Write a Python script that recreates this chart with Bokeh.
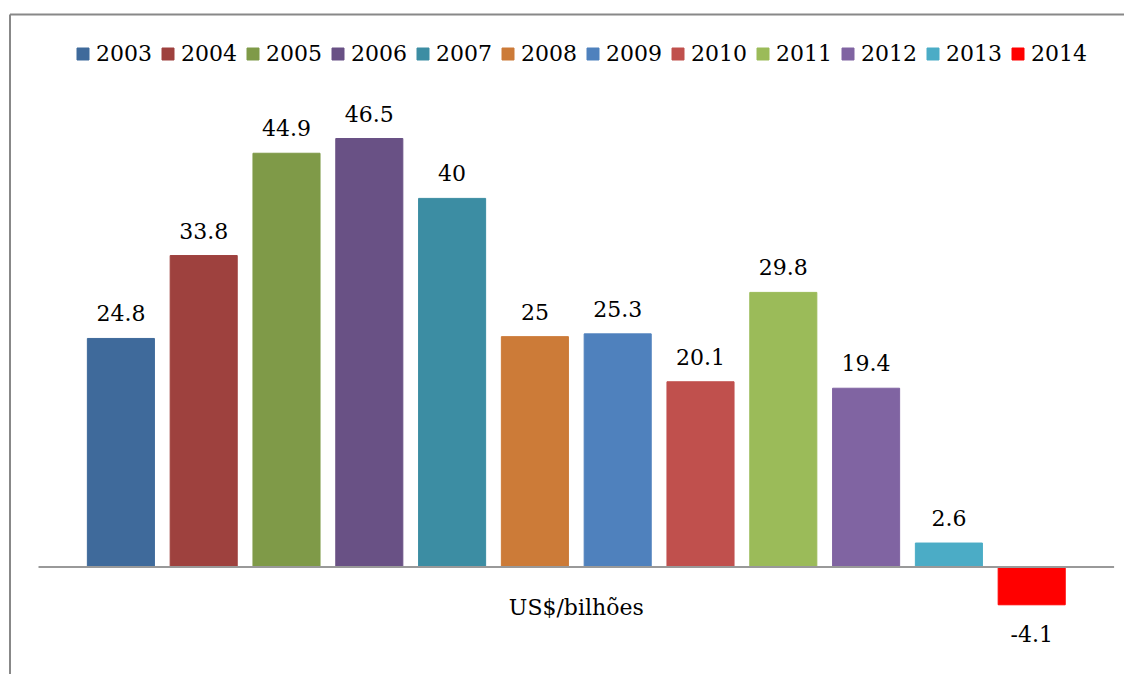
from bokeh.plotting import figure
from bokeh.models import ColumnDataSource, Range1d, LabelSet, Label, Legend, LegendItem
from bokeh.core.properties import value
from bokeh.embed import file_html
from bokeh.resources import INLINE

years = ["2003", "2004", "2005", "2006", "2007", "2008", "2009", "2010", "2011", "2012", "2013", "2014"]
values = [24.8, 33.8, 44.9, 46.5, 40, 25, 25.3, 20.1, 29.8, 19.4, 2.6, -4.1]
labels = ["24.8", "33.8", "44.9", "46.5", "40", "25", "25.3", "20.1", "29.8", "19.4", "2.6", "-4.1"]
colors = ["#3F6A9B", "#9E413E", "#7F9A48", "#695185", "#3C8DA3", "#CC7B38",
          "#4F81BD", "#C0504D", "#9BBB59", "#8064A2", "#4BACC6", "#FF0000"]
category_label = "US$/bilhões"

FONT = "DejaVu Serif"
FSIZE = "22px"

W, H = 1124, 674
PX_X = 82.8     # pixels per category
PX_Y = 9.215    # pixels per unit
x_start = -120.4 / PX_X
x_end = x_start + W / PX_X
y_end = 566.5 / PX_Y
y_start = y_end - H / PX_Y

xs = list(range(len(years)))
src = ColumnDataSource(dict(
    x=xs, top=values, year=years, color=colors, label=labels,
    yoff=[17 if v >= 0 else -37 for v in values],
))

p = figure(width=W, height=H, output_backend="svg", toolbar_location=None,
           x_range=Range1d(x_start, x_end), y_range=Range1d(y_start, y_end),
           min_border_left=0, min_border_right=0, min_border_top=0, min_border_bottom=0)
p.xaxis.visible = False
p.yaxis.visible = False
p.grid.visible = False
p.outline_line_color = None

# outer chart box (left and top edges visible in the window)
bl = x_start + 9.5 / PX_X
bt = y_end - 14 / PX_Y
p.segment(x0=[bl, bl], y0=[bt, bt], x1=[bl, x_end], y1=[y_start, bt],
          line_color="#888888", line_width=2)

r = p.vbar(x="x", top="top", bottom=0, width=0.81, color="color", source=src)

# category axis line at zero
ax0 = -0.5 - 0.495
ax1 = len(years) - 0.5 + 0.495
p.segment(x0=[ax0], y0=[0], x1=[ax1], y1=[0], line_color="#999999", line_width=2)

p.add_layout(LabelSet(x="x", y="top", text="label", source=src, y_offset="yoff",
                      text_align="center", text_baseline="alphabetic",
                      text_font=value(FONT), text_font_size=value(FSIZE),
                      text_color="#000000"))

p.add_layout(Label(x=(len(years) - 1) / 2, y=0, y_offset=-40.5, text=category_label,
                   text_align="center", text_baseline="alphabetic", text_font=FONT,
                   text_font_size=FSIZE, text_color="#000000"))

items = [LegendItem(label=years[i], renderers=[r], index=i) for i in range(len(years))]
legend = Legend(items=items, orientation="horizontal", location=(75, H - 66),
                glyph_width=15, glyph_height=15, label_standoff=6, spacing=8,
                padding=0, margin=0, border_line_color=None, background_fill_alpha=0,
                label_text_font=FONT, label_text_font_size=FSIZE, label_height=15,
                label_text_color="#000000")
p.add_layout(legend)

open("out.html", "w").write(file_html(p, INLINE))
